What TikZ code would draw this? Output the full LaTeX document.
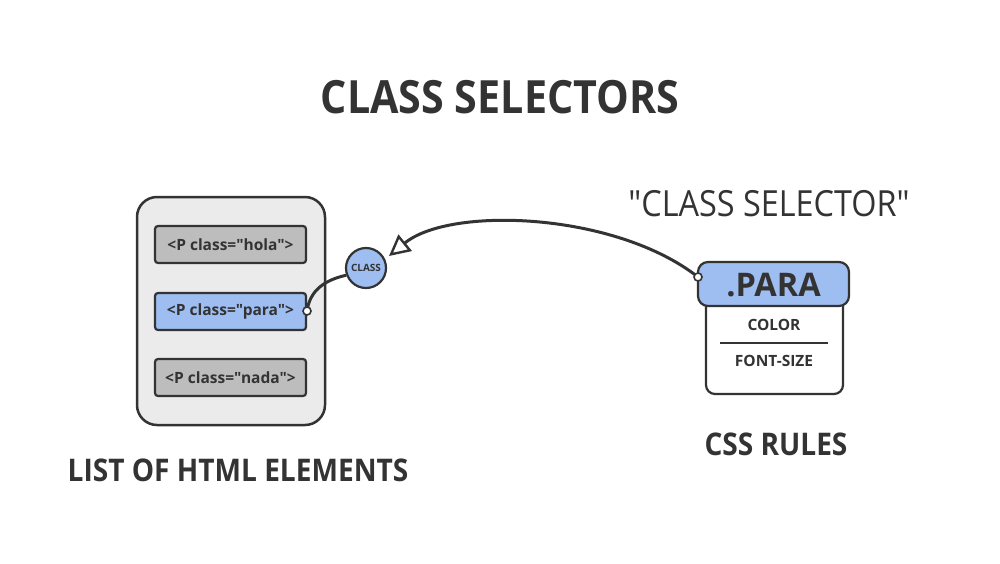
\documentclass[tikz,border=0pt]{standalone}
\usepackage{fontspec}
\setmainfont{Open Sans}
\newfontfamily\ofont{Open Sans}
\newfontfamily\nfont{Open Sans}[FakeStretch=0.9]
\usetikzlibrary{arrows.meta}
\newcommand\dq{\symbol{34}}
\definecolor{ink}{HTML}{333333}
\definecolor{panel}{HTML}{EBEBEB}
\definecolor{graybox}{HTML}{BDBDBD}
\definecolor{bluebox}{HTML}{9EBDF0}
\tikzset{
  elem/.style={draw=ink, line width=2.2pt, rounded corners=3pt, minimum width=151pt, minimum height=37pt, inner sep=0pt, font=\ofont\fontsize{15.5}{17}\selectfont\bfseries, text=ink},
  dot/.style={circle, draw=ink, fill=white, line width=1.6pt, minimum size=8pt, inner sep=0pt},
  conn/.style={draw=ink, line width=3pt},
  lbl/.style={text=ink, font=\nfont\fontsize{31.2}{34}\selectfont\bfseries, inner sep=0pt},
  rtxt/.style={text=ink, font=\ofont\fontsize{15.5}{17}\selectfont\bfseries, inner sep=0pt},
}
\begin{document}
\begin{tikzpicture}[x=1pt,y=-1pt]
\useasboundingbox (0,0) rectangle (1000,563);
\fill[white] (0,0) rectangle (1000,563);
% title
\node[text=ink, font=\nfont\fontsize{45.8}{50}\selectfont\bfseries, inner sep=0pt] (title) at (500,97) {CLASS SELECTORS};
% left panel
\node[draw=ink, fill=panel, line width=2.5pt, rounded corners=20pt, minimum width=188pt, minimum height=228pt] (panel) at (231,311) {};
\node[elem, fill=graybox] (hola) at (230.5,244.5) {<P class=\dq hola\dq>};
\node[elem, fill=bluebox] (para) at (230.5,311.5) {<P class=\dq para\dq>};
\node[elem, fill=graybox] (nada) at (230.5,377.5) {<P class=\dq nada\dq>};
% class circle
\node[circle, draw=ink, fill=bluebox, line width=2.2pt, minimum size=40pt, inner sep=0pt, font=\ofont\fontsize{10}{11}\selectfont\bfseries, text=ink] (cls) at (366,268) {CLASS};
% css rule box
\draw[ink, fill=white, line width=2.2pt, rounded corners=9pt] (706,295) -- (706,394) -- (843,394) -- (843,295);
\node[draw=ink, fill=bluebox, line width=2.2pt, rounded corners=10pt, minimum width=151pt, minimum height=44pt, inner sep=0pt] (rule) at (773.5,284) {};
\node[text=ink, font=\ofont\fontsize{32.5}{36}\selectfont\bfseries, inner sep=0pt] (ruletxt) at (773.5,285) {.PARA};
\node[rtxt] (color) at (774,325) {COLOR};
\node[rtxt] (fsize) at (774,361) {FONT-SIZE};
\coordinate (sepL) at (720,343);
\coordinate (sepR) at (828,343);
\draw[ink, line width=1.2pt] (sepL) -- (sepR);
% connectors
\coordinate (pdot) at (307,311);
\coordinate (rdot) at (698,277);
\draw[conn] (pdot) .. controls (310,290) and (325,280) .. (cls.200);
\draw[conn, -{Triangle[open, length=21pt, width=21pt, line width=2.4pt]}] (rdot) .. controls (615,212) and (450,206) .. (389,256);
\node[dot] (d1) at (pdot) {};
\node[dot] (d2) at (rdot) {};
% labels
\node[text=ink, font=\nfont\fontsize{36}{40}\selectfont, inner sep=0pt] (sel) at (769,204) {\dq CLASS SELECTOR\dq};
\node[lbl] (css) at (776,444) {CSS RULES};
\node[lbl] (list) at (238,470) {LIST OF HTML ELEMENTS};
\end{tikzpicture}
\end{document}
